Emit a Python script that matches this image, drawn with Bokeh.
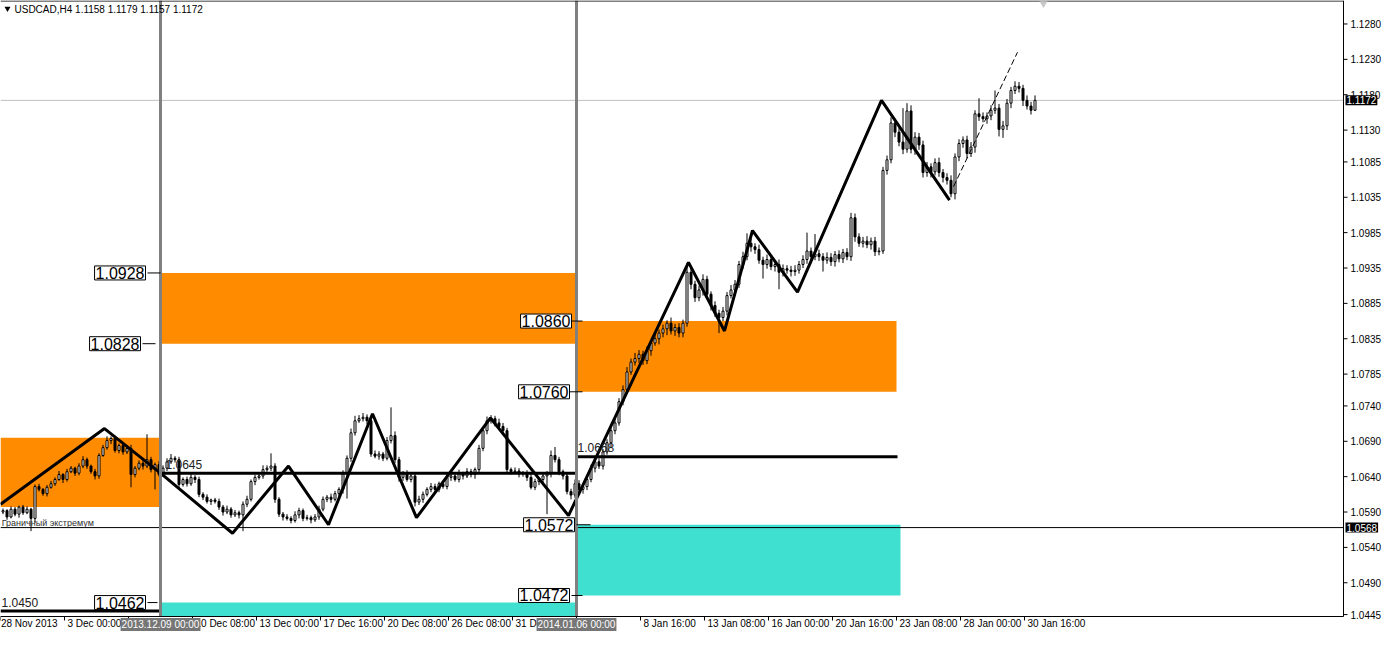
from bokeh.plotting import figure
from bokeh.models import Range1d, Label
from bokeh.core.properties import value
from bokeh.embed import file_html
from bokeh.resources import INLINE

# ---------------- data ----------------
symbol_header = "USDCAD,H4  1.1158 1.1179 1.1157 1.1172"
first_open = 1.0590
closes = [
    1.0592, 1.0583, 1.0594, 1.0587, 1.0597, 1.0589, 1.0594, 1.0581, 1.0626, 1.0622,
    1.0616, 1.0625, 1.0630, 1.0636, 1.0643, 1.0636, 1.0647, 1.0652, 1.0645, 1.0655,
    1.0664, 1.0655, 1.0647, 1.0641, 1.0670, 1.0681, 1.0691, 1.0694, 1.0677, 1.0684,
    1.0675, 1.0680, 1.0643, 1.0652, 1.0659, 1.0655, 1.0664, 1.0650, 1.0657, 1.0643,
    1.0652, 1.0661, 1.0666, 1.0664, 1.0629, 1.0636, 1.0630, 1.0639, 1.0636, 1.0615,
    1.0611, 1.0605, 1.0607, 1.0605, 1.0597, 1.0590, 1.0594, 1.0586, 1.0589, 1.0586,
    1.0601, 1.0608, 1.0633, 1.0639, 1.0641, 1.0650, 1.0652, 1.0655, 1.0608, 1.0587,
    1.0583, 1.0581, 1.0578, 1.0586, 1.0592, 1.0581, 1.0582, 1.0579, 1.0583, 1.0594,
    1.0608, 1.0611, 1.0608, 1.0616, 1.0622, 1.0644, 1.0666, 1.0702, 1.0719, 1.0722,
    1.0724, 1.0719, 1.0672, 1.0669, 1.0672, 1.0666, 1.0691, 1.0698, 1.0664, 1.0639,
    1.0644, 1.0636, 1.0641, 1.0604, 1.0608, 1.0615, 1.0622, 1.0626, 1.0622, 1.0630,
    1.0626, 1.0639, 1.0641, 1.0636, 1.0644, 1.0641, 1.0647, 1.0643, 1.0650, 1.0680,
    1.0705, 1.0719, 1.0722, 1.0716, 1.0711, 1.0705, 1.0650, 1.0647, 1.0648, 1.0644,
    1.0645, 1.0639, 1.0625, 1.0633, 1.0636, 1.0641, 1.0644, 1.0670, 1.0664, 1.0647,
    1.0641, 1.0619, 1.0614, 1.0630, 1.0622, 1.0626, 1.0636, 1.0652, 1.0661, 1.0655,
    1.0675, 1.0688, 1.0705, 1.0716, 1.0746, 1.0763, 1.0788, 1.0802, 1.0807, 1.0813,
    1.0804, 1.0818, 1.0829, 1.0835, 1.0843, 1.0849, 1.0857, 1.0846, 1.0851, 1.0843,
    1.0857, 1.0929, 1.0912, 1.0893, 1.0904, 1.0919, 1.0898, 1.0882, 1.0871, 1.0865,
    1.0874, 1.0896, 1.0904, 1.0912, 1.0940, 1.0951, 1.0970, 1.0965, 1.0961, 1.0946,
    1.0940, 1.0947, 1.0937, 1.0940, 1.0929, 1.0934, 1.0932, 1.0930, 1.0932, 1.0940,
    1.0947, 1.0959, 1.0951, 1.0955, 1.0951, 1.0946, 1.0950, 1.0944, 1.0954, 1.0948,
    1.0957, 1.0951, 1.1006, 1.0979, 1.0970, 1.0973, 1.0968, 1.0973, 1.0958, 1.0959,
    1.1073, 1.1088, 1.1140, 1.1127, 1.1113, 1.1103, 1.1157, 1.1103, 1.1120, 1.1109,
    1.1070, 1.1078, 1.1071, 1.1084, 1.1070, 1.1063, 1.1059, 1.1040, 1.1092, 1.1111,
    1.1116, 1.1097, 1.1106, 1.1153, 1.1149, 1.1146, 1.1150, 1.1158, 1.1161, 1.1131,
    1.1136, 1.1168, 1.1186, 1.1192, 1.1189, 1.1172, 1.1164, 1.1158, 1.1172,
]
# upper / lower wick lengths in pips
wick_up = [
    3, 2, 4, 3, 2, 3, 4, 2, 3, 4,   2, 3, 4, 3, 5, 2, 4, 3, 2, 4,
    5, 3, 2, 4, 3, 4, 6, 3, 4, 3,   3, 4, 5, 3, 4, 6, 36, 4, 3, 5,
    4, 5, 6, 3, 4, 3, 4, 5, 3, 4,   3, 4, 2, 3, 4, 3, 5, 3, 4, 3,
    4, 5, 3, 4, 5, 6, 4, 18, 4, 3,  3, 4, 3, 5, 4, 3, 4, 3, 4, 5,
    4, 3, 5, 4, 3, 5, 4, 6, 7, 5,   6, 4, 3, 5, 4, 3, 5, 40, 6, 4,
    4, 5, 3, 4, 5, 4, 3, 5, 4, 3,   4, 5, 3, 4, 6, 3, 5, 4, 3, 5,
    5, 6, 5, 4, 6, 5, 4, 3, 5, 4,   3, 4, 5, 4, 3, 5, 4, 7, 12, 4,
    3, 5, 4, 6, 5, 4, 3, 5, 4, 5,   4, 5, 4, 6, 5, 6, 7, 5, 8, 6,
    5, 6, 4, 7, 5, 6, 4, 8, 5, 6,   5, 13, 8, 5, 6, 7, 5, 4, 6, 5,
    6, 5, 7, 6, 5, 7, 14, 6, 5, 7,  5, 7, 6, 5, 7, 6, 5, 6, 7, 5,
    6, 26, 5, 28, 6, 5, 7, 6, 5, 6, 5, 6, 7, 6, 5, 6, 7, 5, 6, 5,
    5, 6, 8, 6, 7, 48, 11, 8, 7, 6, 6, 7, 5, 6, 7, 5, 6, 7, 5, 6,
    5, 6, 7, 5, 22, 6, 5, 7, 25, 6, 7, 6, 5, 7, 6, 5, 7, 6, 7,
]
wick_dn = [
    3, 4, 2, 3, 5, 3, 2, 18, 6, 3,  3, 4, 2, 3, 2, 5, 3, 2, 4, 3,
    3, 4, 3, 5, 4, 2, 3, 5, 3, 4,   4, 3, 18, 4, 3, 5, 3, 4, 28, 3,
    3, 4, 3, 4, 5, 3, 4, 3, 5, 4,   4, 3, 5, 3, 4, 5, 3, 4, 3, 5,
    23, 4, 3, 5, 3, 4, 3, 4, 5, 4,  5, 3, 4, 3, 5, 4, 3, 5, 3, 4,
    3, 4, 5, 3, 4, 6, 35, 5, 4, 3,  4, 5, 4, 3, 5, 4, 3, 4, 5, 6,
    5, 3, 4, 6, 4, 5, 3, 4, 5, 4,   3, 4, 5, 3, 4, 5, 3, 4, 6, 4,
    4, 5, 4, 5, 3, 4, 6, 4, 3, 5,   4, 5, 3, 4, 5, 4, 54, 5, 4, 5,
    5, 4, 6, 4, 8, 6, 5, 4, 6, 4,   5, 4, 6, 5, 4, 5, 6, 4, 5, 6,
    6, 5, 7, 4, 8, 6, 9, 5, 7, 6,   6, 5, 7, 6, 5, 8, 6, 7, 5, 22,
    5, 6, 4, 7, 5, 6, 5, 7, 6, 5,   20, 6, 5, 7, 24, 6, 5, 7, 6, 5,
    5, 6, 7, 5, 6, 16, 5, 6, 7, 5,  6, 5, 6, 7, 5, 6, 5, 7, 6, 5,
    4, 6, 5, 7, 6, 7, 5, 6, 8, 7,   7, 6, 8, 5, 6, 7, 6, 5, 8, 6,
    6, 7, 5, 8, 6, 5, 7, 6, 5, 10,  12, 6, 7, 5, 6, 8, 5, 6, 1,
]
assert len(closes) == len(wick_up) == len(wick_dn) == 259

# zigzag turning points (bar index, price)
zz_bar = [0, 26, 40, 58, 72, 82, 93, 104, 122.5, 142, 172, 181, 188, 199.25, 220.25, 237.25]
zz_price = [1.0601, 1.0708, 1.0645, 1.0560, 1.0655, 1.0572, 1.0729, 1.0582, 1.0723, 1.0585,
            1.0943, 1.0846, 1.0988, 1.0901, 1.1172, 1.1031]
trend_bar = [238.25, 254.25]
trend_price = [1.1050, 1.1240]

# zones
zone_start = [0, 40, 144, 144, 40]
zone_end = [40, 144, 224, 225, 144]
zone_top = [1.0695, 1.0928, 1.0860, 1.0572, 1.0462]
zone_bottom = [1.0597, 1.0828, 1.0760, 1.0472, 1.0400]
zone_color = ["#FF8C00", "#FF8C00", "#FF8C00", "#40E0D0", "#40E0D0"]

# level lines
level_price = [1.0645, 1.0668, 1.0450]
level_start = [40, 144, 0]
level_end = [144, 224.25, 40]
level_text = ["1.0645", "1.0668", "1.0450"]
bid_price = 1.1172
extreme_price = 1.0568
separator_bars = [40, 144]
separator_text = ["2013.12.09 00:00", "2014.01.06 00:00"]

y_ticks = [1.1280, 1.1230, 1.1180, 1.1130, 1.1085, 1.1035, 1.0985, 1.0935, 1.0885,
           1.0835, 1.0785, 1.0740, 1.0690, 1.0640, 1.0590, 1.0540, 1.0490, 1.0445]
x_tick_bars = [0, 16, 32, 48, 64, 80, 96, 112, 128, 144, 160, 176, 192, 208, 224, 240, 256]
x_tick_labels = ["28 Nov 2013", "3 Dec 00:00", "5 Dec 16:00", "10 Dec 08:00", "13 Dec 00:00",
                 "17 Dec 16:00", "20 Dec 08:00", "26 Dec 08:00", "31 Dec 16:00", "",
                 "8 Jan 16:00", "13 Jan 08:00", "16 Jan 00:00", "20 Jan 16:00",
                 "23 Jan 08:00", "28 Jan 00:00", "30 Jan 16:00"]

box_texts = ["1.0928", "1.0828", "1.0462", "1.0860", "1.0760", "1.0572", "1.0472"]
box_prices = [1.0928, 1.0828, 1.0462, 1.0860, 1.0760, 1.0572, 1.0472]

# --------------- derived OHLC ---------------
opens = [first_open] + closes[:-1]
highs = [max(o, c) + u * 0.0001 for o, c, u in zip(opens, closes, wick_up)]
lows = [min(o, c) - d * 0.0001 for o, c, d in zip(opens, closes, wick_dn)]
xs = [i + 0.625 for i in range(len(closes))]
tops = [max(o, c) for o, c in zip(opens, closes)]
bots = [min(o, c) for o, c in zip(opens, closes)]
body_col = ["white" if c >= o else "black" for o, c in zip(opens, closes)]

# --------------- layout (4 px per bar) ---------------
FONT = "Liberation Sans"
W, H = 1382, 632
PXB = 4.0                      # pixels per bar
CHART_R = 335.75               # right edge of price area (bars)
P_TOP = 1.13132                # price at the top edge
P_BOT = 1.04423                # price at the bottom of the price area
CHART_H = 616.0                # px height of price area
KPX = CHART_H / (P_TOP - P_BOT)
Y0 = P_BOT - (H - CHART_H) / KPX
X0, X1 = 0.0, W / PXB


def dy(px):
    return px / KPX


def dx(px):
    return px / PXB


p = figure(width=W, height=H, output_backend="svg", toolbar_location=None,
           x_range=Range1d(X0, X1), y_range=Range1d(Y0, P_TOP),
           x_axis_location=None, y_axis_location=None,
           min_border_left=0, min_border_top=0, min_border_right=0, min_border_bottom=0,
           background_fill_color="white", border_fill_color="white", title=None)
p.grid.visible = False
p.outline_line_color = None

# zones
p.quad(left=zone_start, right=zone_end, top=zone_top,
       bottom=[max(b, P_BOT) for b in zone_bottom], fill_color=zone_color, line_color=None)

# thin horizontal price lines
p.segment(x0=[0], x1=[CHART_R], y0=[bid_price], y1=[bid_price], line_color="#c0c0c0", line_width=1)
p.segment(x0=[0], x1=[CHART_R], y0=[extreme_price], y1=[extreme_price], line_color="black", line_width=1)

# candles
p.segment(x0=xs, x1=xs, y0=lows, y1=highs, line_color="black", line_width=1)
p.vbar(x=xs, width=0.5, top=tops, bottom=bots, fill_color=body_col, line_color="black", line_width=1)

# zigzag and trend line
p.line(zz_bar, zz_price, line_color="black", line_width=3)
p.line(trend_bar, trend_price, line_color="black", line_width=1, line_dash="6 3")

# level lines
p.segment(x0=level_start, x1=level_end, y0=level_price, y1=level_price, line_color="black", line_width=3)

# separators
p.segment(x0=separator_bars, x1=separator_bars, y0=[P_BOT] * 2, y1=[P_TOP] * 2,
          line_color="#808080", line_width=3)

# frame: top border, price axis line, time axis line
p.segment(x0=[0, CHART_R, 0], x1=[CHART_R, CHART_R, CHART_R],
          y0=[P_TOP - dy(0.5), P_TOP, P_BOT], y1=[P_TOP - dy(0.5), P_BOT, P_BOT],
          line_color="black", line_width=1)

# price scale ticks + labels
p.segment(x0=[CHART_R] * len(y_ticks), x1=[CHART_R + dx(4)] * len(y_ticks), y0=y_ticks, y1=y_ticks,
          line_color="black", line_width=1)
p.text(x=[CHART_R + dx(7)] * len(y_ticks), y=y_ticks, text=["%.4f" % v for v in y_ticks],
       text_font=value(FONT), text_font_size="10px", text_color="black",
       text_baseline="middle", text_align="left")

# time scale ticks + labels
p.segment(x0=x_tick_bars, x1=x_tick_bars, y0=[P_BOT] * len(x_tick_bars),
          y1=[P_BOT - dy(4)] * len(x_tick_bars), line_color="black", line_width=1)
lab_x = [b + dx(3) for b, t in zip(x_tick_bars, x_tick_labels) if t]
lab_t = [t for t in x_tick_labels if t]
lab_x[0] = 0.1
p.text(x=lab_x, y=[P_BOT - dy(1.5)] * len(lab_t), text=lab_t,
       text_font=value(FONT), text_font_size="10px", text_color="black",
       text_baseline="top", text_align="left")

# small marker at top
p.scatter(x=[260.75], y=[P_TOP - dy(3)], marker="inverted_triangle", size=8, color="#c8c8c8",
          line_color=None)

# header
p.text(x=[dx(14)], y=[P_TOP - dy(9)], text=[symbol_header], text_font=value(FONT),
       text_font_size="10px", text_color="black", text_baseline="middle")
p.scatter(x=[dx(7)], y=[P_TOP - dy(8)], marker="inverted_triangle", size=6, color="black",
          line_color=None)

# level texts
p.text(x=[dx(165), dx(577), dx(1)], y=[lp + dy(9) for lp in level_price], text=level_text,
       text_font=value(FONT), text_font_size="12px", text_color="#202020", text_baseline="middle")
p.text(x=[0.3], y=[extreme_price + dy(5)], text=["Граничный экстремум"], text_font=value(FONT),
       text_font_size="9px", text_color="#303030", text_baseline="middle")

# short ticks beside framed labels
tick_x0 = [36.75, 35.5, 36.75, 141.75, 141.75, 144.0, 142.75]
tick_x1 = [40.0, 38.75, 39.25, 145.5, 145.5, 147.5, 145.5]
p.segment(x0=tick_x0, x1=tick_x1, y0=box_prices, y1=box_prices, line_color="black", line_width=1)

# framed price labels
box_x = [36.25, 35.0, 36.25, 142.75, 142.25, 143.5, 142.25]
for t, bx, by in zip(box_texts, box_x, box_prices):
    p.add_layout(Label(x=bx, y=by, text=t, text_align="right", text_baseline="middle",
                       text_font=FONT, text_font_size="16px", text_color="black",
                       background_fill_color="white", border_line_color="black",
                       border_line_width=1, padding=1))

# highlighted dates at separators
for b, t in zip(separator_bars, separator_text):
    p.add_layout(Label(x=b, y=P_BOT - dy(1.5), text=t, text_align="center", text_baseline="top",
                       text_font=FONT, text_font_size="10px", text_color="white",
                       background_fill_color="#767676", padding=1))

# highlighted prices on the price scale
for pr, t in zip([bid_price, extreme_price], ["1.1172", "1.0568"]):
    p.add_layout(Label(x=CHART_R + dx(2), y=pr, text=t, text_align="left", text_baseline="middle",
                       text_font=FONT, text_font_size="10px", text_color="white",
                       background_fill_color="black", padding=1))

open("out.html", "w").write(file_html(p, INLINE))
